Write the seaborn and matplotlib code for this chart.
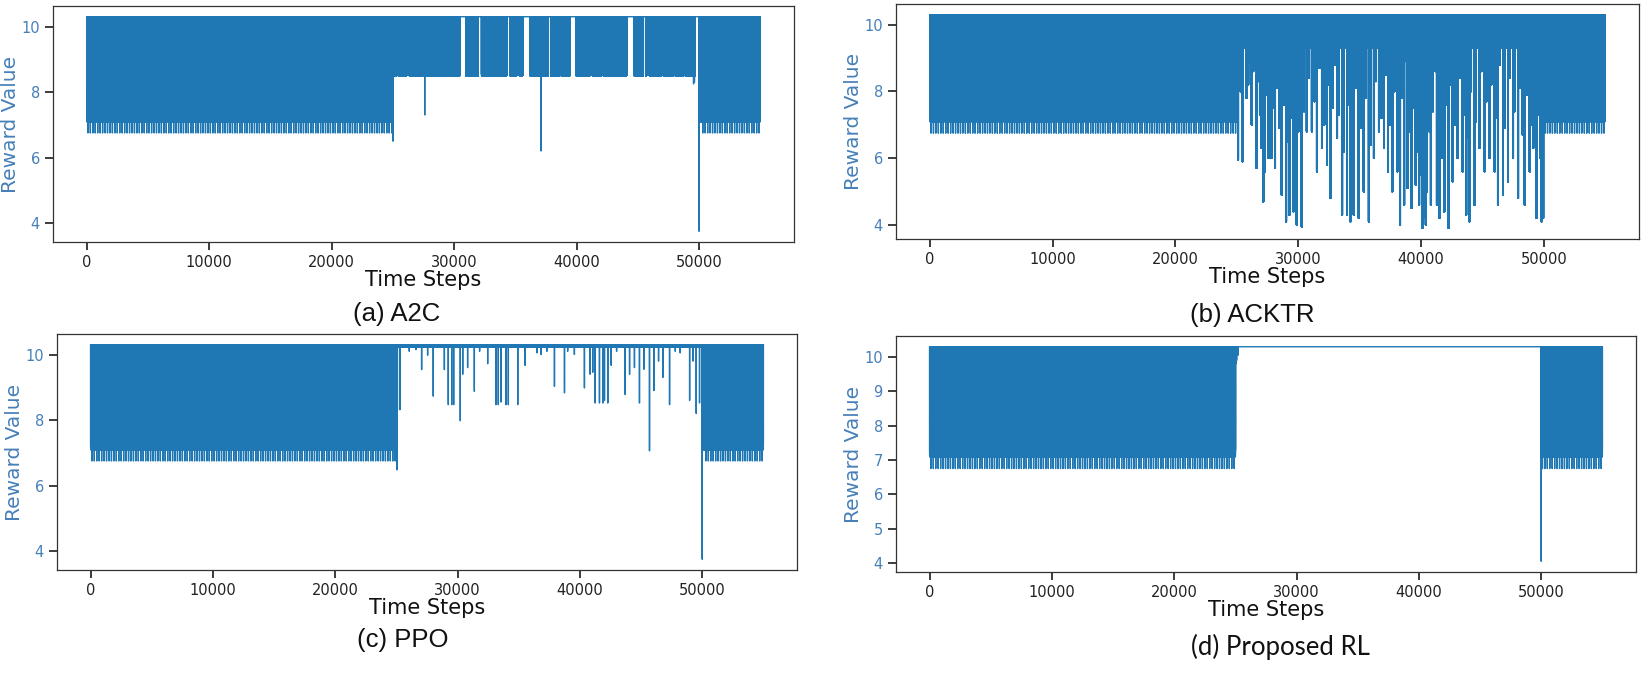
import numpy as np
import matplotlib
matplotlib.use("Agg")
import matplotlib.pyplot as plt
import seaborn as sns

# ---------------- data ----------------
N_STEPS = 55000
PHASE_EDGES = [25000, 50000]   # oscillating block | middle phase | oscillating block

# reward pattern repeated inside the dense blue blocks
BLOCK_CYCLE = [10.3, 7.15, 10.3, 7.25, 10.3, 7.1, 10.3, 7.3]
COMB_LOW = 6.75        # the "comb" teeth under the blocks
COMB_EVERY = 200

# (a) A2C: middle phase swings between 10.3 and ~8.5, with flat stretches at 10.3
A2C_MID_CYCLE = [10.3, 8.5, 10.3, 8.55]
A2C_FLAT = [(25300, 25430), (26120, 26330), (27420, 27530), (30470, 30960),
            (31970, 32240), (34290, 34560), (35100, 35320), (35590, 36190),
            (37690, 37880), (38640, 38780), (39460, 39950), (41090, 41280),
            (42050, 42180), (44090, 44690), (45450, 45640), (45720, 45940),
            (46950, 47080), (47900, 48040), (48720, 48860), (49670, 49990)]
A2C_SPIKES = [(25010, 6.5), (25080, 8.8), (27600, 7.3), (37100, 6.2),
              (49550, 8.25), (49620, 8.3), (50000, 3.75), (50100, 7.4)]

# (b) ACKTR: middle phase keeps a top band and many drops of varying depth
ACKTR_MID_CYCLE = [10.3, 9.45, 10.3, 9.3]
ACKTR_SPIKES = [(25080, 5.96), (25270, 8.0), (25440, 5.9), (25760, 7.8),
                (26040, 8.9), (26310, 8.6), (26580, 5.7), (26860, 7.3),
                (27130, 4.7), (27270, 5.6), (27540, 6.0), (27810, 6.0),
                (28090, 5.7), (28630, 4.9), (28990, 4.1), (29260, 4.3),
                (29590, 4.4), (29860, 4.0), (30270, 3.95), (30680, 6.8),
                (31090, 6.8), (31500, 5.6), (31910, 6.3), (32320, 5.8),
                (32590, 4.8), (33140, 6.6), (33550, 4.3), (33950, 4.3),
                (34230, 4.1), (34500, 4.3), (34910, 4.2), (35320, 5.0),
                (35730, 4.1), (36140, 6.0), (36550, 6.8), (36960, 6.3),
                (37290, 5.6), (37640, 5.0), (38050, 5.6), (38270, 4.0),
                (38600, 4.6), (38870, 5.1), (39200, 4.5), (39550, 5.2),
                (39820, 4.6), (40100, 3.9), (40230, 4.2), (40370, 4.0),
                (40780, 4.6), (41270, 4.6), (41460, 4.2), (41870, 4.4),
                (42230, 3.9), (42550, 5.3), (42960, 6.0), (43370, 5.6),
                (43650, 4.3), (43920, 4.1), (44330, 4.6), (44740, 6.3),
                (45150, 5.6), (45560, 6.0), (45970, 5.6), (46240, 4.6),
                (46650, 4.9), (47060, 5.3), (47470, 6.0), (47880, 4.8),
                (48420, 4.6), (48830, 5.6), (49110, 6.3), (49380, 4.2),
                (49790, 4.1), (49920, 4.2)]
# shallower drops that fill the band between ~9 and ~6
ACKTR_SHALLOW = [(25900, 8.2), (26200, 7.0), (26700, 8.3), (27000, 6.3),
                 (27400, 7.9), (27700, 8.6), (27950, 7.5), (28250, 8.1),
                 (28450, 6.9), (28800, 7.6), (29100, 6.5), (29400, 7.2),
                 (29700, 8.0), (30000, 6.8), (30450, 7.4), (30850, 8.4),
                 (31300, 7.7), (31700, 8.7), (32100, 7.0), (32450, 8.2),
                 (32800, 7.5), (33000, 8.8), (33300, 7.3), (33700, 6.2),
                 (34100, 7.6), (34350, 6.6), (34700, 8.1), (35050, 6.9),
                 (35500, 7.8), (35900, 6.4), (36300, 8.3), (36750, 7.2),
                 (37100, 8.5), (37450, 7.0), (37800, 8.0), (38150, 6.5),
                 (38450, 7.8), (38750, 8.9), (39050, 6.8), (39350, 7.5),
                 (39700, 6.2), (39950, 5.5), (40450, 5.0), (40650, 6.8),
                 (40950, 7.4), (41150, 8.6), (41650, 6.0), (42000, 7.6),
                 (42400, 8.2), (42750, 7.0), (43100, 8.4), (43500, 7.3),
                 (43800, 6.6), (44050, 8.0), (44450, 7.1), (44900, 8.6),
                 (45300, 7.7), (45700, 8.2), (46100, 7.2), (46400, 8.8),
                 (46800, 6.9), (47200, 8.4), (47600, 7.4), (48000, 8.1),
                 (48250, 6.7), (48600, 7.9), (48950, 7.0), (49250, 8.5),
                 (49550, 7.3), (49700, 6.0)]

# (c) PPO: middle phase stays near 10.3 with scattered dips
PPO_MID_CYCLE = [10.3, 10.24]
PPO_SPIKES = [(25040, 6.48), (25260, 8.32), (25310, 8.32), (26050, 10.1),
              (26600, 10.15), (27060, 9.54), (27550, 9.98), (28010, 8.73),
              (28920, 9.54), (29240, 8.47), (29520, 8.47), (29680, 8.47),
              (30220, 7.98), (30420, 9.4), (30820, 9.6), (31370, 8.88),
              (31800, 10.1), (32460, 9.72), (33140, 8.47), (33330, 8.47),
              (33550, 8.55), (33960, 8.47), (34150, 8.47), (34920, 8.47),
              (35520, 9.67), (36500, 10.05), (36830, 10.0), (37300, 10.1),
              (37920, 9.03), (38740, 8.83), (39000, 10.1), (39550, 10.0),
              (40370, 8.98), (40840, 9.4), (41050, 9.46), (41250, 8.52),
              (41600, 8.52), (41870, 8.52), (42010, 8.6), (42280, 8.52),
              (42560, 9.67), (43000, 10.1), (43700, 8.78), (44060, 9.4),
              (44460, 9.6), (44870, 8.52), (45230, 9.55), (45690, 7.06),
              (46050, 8.9), (46430, 9.8), (46780, 9.3), (47330, 8.47),
              (47800, 10.1), (48200, 10.05), (48970, 8.6), (49240, 9.8),
              (49510, 8.2), (49780, 8.52), (50000, 3.75), (50100, 7.4)]

# (d) Proposed RL: middle phase flat at 10.3
PROPOSED_MID_CYCLE = [10.3]
PROPOSED_SPIKES = [(25020, 9.8), (25100, 9.9), (25200, 10.05), (50000, 4.05),
                   (50080, 8.3)]

PANELS = ["(a) A2C", "(b) ACKTR", "(c) PPO", "(d) Proposed RL"]
YTICKS = [[4, 6, 8, 10], [4, 6, 8, 10], [4, 6, 8, 10], [4, 5, 6, 7, 8, 9, 10]]
XTICKS = [0, 10000, 20000, 30000, 40000, 50000]


def build_series(mid_cycle, spikes, flat=(), spike_width=1):
    y = np.resize(np.array(BLOCK_CYCLE), N_STEPS)
    y[100::COMB_EVERY] = COMB_LOW
    a, b = PHASE_EDGES
    y[a:b] = np.resize(np.array(mid_cycle), b - a)
    for s, e in flat:
        y[s:e] = 10.3
    for s, v in spikes:
        # a drop lasting a few steps shows as a thicker stroke
        y[s:s + spike_width:2] = v
    return y


steps = np.arange(N_STEPS)
series = [
    build_series(A2C_MID_CYCLE, A2C_SPIKES, A2C_FLAT),
    build_series(ACKTR_MID_CYCLE, ACKTR_SPIKES + ACKTR_SHALLOW, spike_width=50),
    build_series(PPO_MID_CYCLE, PPO_SPIKES),
    build_series(PROPOSED_MID_CYCLE, PROPOSED_SPIKES),
]

# ---------------- figure ----------------
sns.set_theme(style="ticks")
plt.rcParams["font.family"] = ["DejaVu Sans"]
plt.rcParams["path.simplify"] = False

W, H = 1644, 673
fig = plt.figure(figsize=(W / 100, H / 100), dpi=100)

# axes boxes in pixels: left, top, right, bottom
boxes = [(53, 6, 794, 242), (896, 4, 1639, 239),
         (57, 334, 797, 570), (896, 336, 1636, 572)]
line_color = "#1f77b4"
label_blue = "#4680b8"

for i, (l, t, r, b) in enumerate(boxes):
    ax = fig.add_axes([l / W, 1 - b / H, (r - l) / W, (b - t) / H])
    sns.lineplot(x=steps, y=series[i], ax=ax, color=line_color, linewidth=1.0,
                 estimator=None, sort=False)
    ax.set_xticks(XTICKS)
    ax.set_yticks(YTICKS[i])
    ax.tick_params(axis="x", labelsize=10.5, colors="#222222")
    ax.tick_params(axis="y", labelsize=10.5, labelcolor=label_blue)
    ax.set_xlabel("Time Steps", fontsize=15, color="#111111", labelpad=0)
    ax.set_ylabel("Reward Value", fontsize=14.5, color=label_blue, labelpad=1)
    for sp in ax.spines.values():
        sp.set_color("#333333")
        sp.set_linewidth(0.9)

# panel captions under each chart
caps = [(397, 321, "Liberation Sans"), (1252, 322, "Liberation Sans"),
        (403, 647, "Liberation Sans"), (1280, 655, "Lato")]
for (cx, cy, fam), text in zip(caps, PANELS):
    fig.text(cx / W, 1 - cy / H, text, ha="center", va="baseline",
             fontsize=18.5, family=fam, color="#111111")

fig.savefig("out.png", dpi=100)
